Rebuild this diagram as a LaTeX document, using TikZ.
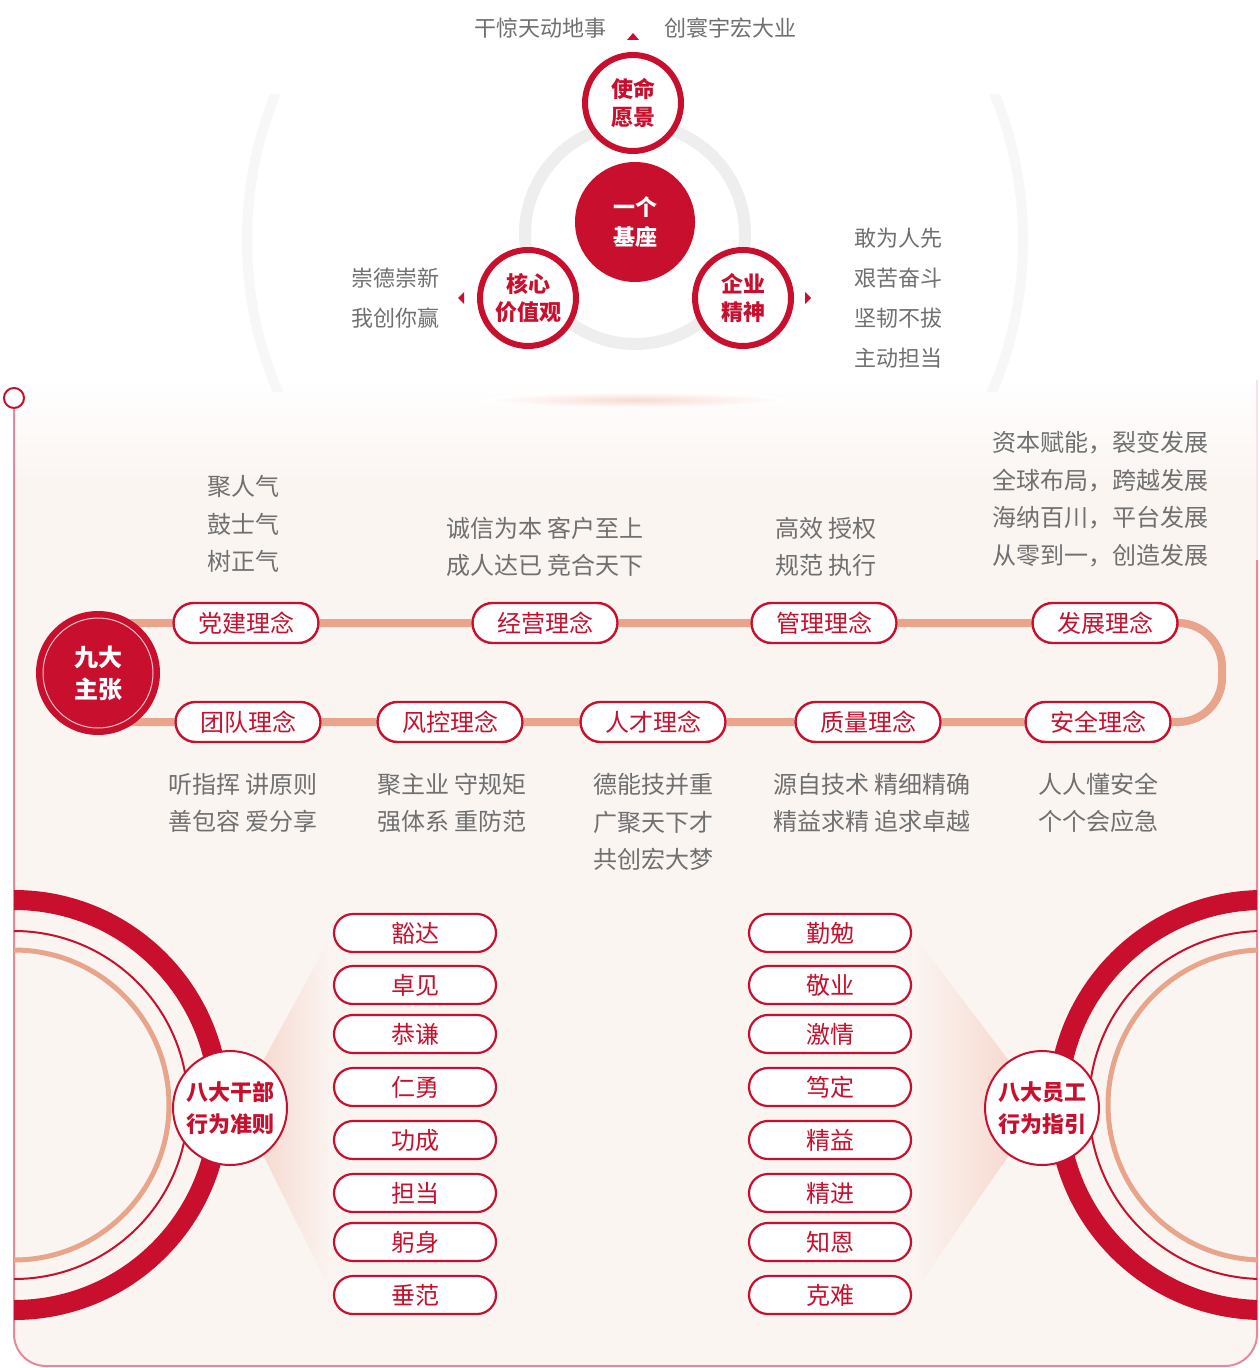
\documentclass[tikz,border=0pt]{standalone}
\usepackage{fontspec}
\setmainfont{Noto Sans CJK SC}
\usepackage{tikz}
\usetikzlibrary{positioning}

\definecolor{zred}{HTML}{C8102E}
\definecolor{salmon}{HTML}{E9A48C}
\definecolor{txtgray}{HTML}{707070}
\definecolor{bgpink}{HTML}{FBF5F2}
\definecolor{frameline}{HTML}{E8889A}

\pgfdeclarelayer{bg}
\pgfdeclarelayer{mid}
\pgfsetlayers{bg,mid,main}

\tikzset{
  note/.style={text=txtgray, align=center, font=\fontsize{12pt}{18.75pt}\selectfont},
  topnote/.style={text=txtgray, align=center, font=\fontsize{11pt}{20pt}\selectfont},
  core/.style={circle, fill=zred, text=white, align=center, inner sep=0pt,
    minimum size=60pt, font=\bfseries\fontsize{11pt}{15pt}\selectfont},
  petal/.style={circle, draw=zred, line width=3pt, fill=white, text=zred, align=center,
    inner sep=0pt, minimum size=48pt, font=\bfseries\fontsize{11pt}{14pt}\selectfont},
  hub/.style={circle, fill=zred, text=white, align=center, inner sep=0pt,
    minimum size=62pt, font=\bfseries\fontsize{12pt}{16pt}\selectfont},
  idea/.style={draw=zred, line width=1.2pt, fill=white, text=zred, rounded corners=10pt,
    minimum width=72.5pt, minimum height=20pt, inner sep=0pt, font=\fontsize{12pt}{14pt}\selectfont},
  virtue/.style={draw=zred, line width=1.1pt, fill=white, text=zred, rounded corners=9.5pt,
    minimum width=81pt, minimum height=19pt, inner sep=0pt, font=\fontsize{12pt}{14pt}\selectfont},
  badge/.style={circle, draw=zred, line width=1pt, fill=white, text=zred, align=center,
    inner sep=0pt, minimum size=57pt, font=\bfseries\fontsize{11pt}{16pt}\selectfont},
  track/.style={salmon, line width=4pt, rounded corners=22pt},
  frame/.style={frameline, line width=1pt, rounded corners=16pt},
}

\begin{document}
\begin{tikzpicture}[x=0.5pt, y=-0.5pt]
\useasboundingbox (0,0) rectangle (1259,1368);

% background
\begin{pgfonlayer}{bg}
  \fill[white] (0,0) rectangle (1259,1368);
  \fill[bgpink, rounded corners=16pt] (14,380) rectangle (1257,1366);
  \shade[top color=white, bottom color=bgpink] (14,378) rectangle (1257,480);
\end{pgfonlayer}

% top part
\begin{scope}
  \clip (0,95) rectangle (1259,392);
  \draw[gray!6, line width=5pt] (635,240) circle (388);
\end{scope}
\shade[inner color=salmon!40, outer color=white] (635,400) ellipse (150 and 8);
\draw[gray!13, line width=6pt] (635,234) circle (110);

\node[core] (core) at (635,222) {一个\\基座};
\node[petal] (mission) at (633,103) {使命\\愿景};
\node[petal] (values) at (528,298) {核心\\价值观};
\node[petal] (spirit) at (743,298) {企业\\精神};

\fill[zred] (627,40) -- (639,40) -- (633,33) -- cycle;
\fill[zred] (464,292) -- (464,304) -- (458,298) -- cycle;
\fill[zred] (805,292) -- (805,304) -- (811,298) -- cycle;

\node[topnote] (m1) at (540,28) {干惊天动地事};
\node[topnote] (m2) at (730,28) {创寰宇宏大业};
\node[topnote] (v1) at (395,298) {崇德崇新\\我创你赢};
\node[topnote] (s1) at (898,298) {敢为人先\\艰苦奋斗\\坚韧不拔\\主动担当};

% frame
\node[circle, draw=zred, line width=1pt, fill=white, minimum size=10pt, inner sep=0pt] (start) at (14,398) {};
\draw[frame] (start) -- (14,1366) -- (1257,1366) -- (1257,560);
\draw[frameline!25, line width=0.8pt] (1257,560) -- (1257,380);

% nine ideas
\node[hub] (zhu) at (98,673) {九大\\主张};
\draw[white!75!zred, line width=0.5pt] (zhu) circle (55);

\node[idea] (dangjian) at (246,623) {党建理念};
\node[idea] (jingying) at (545,623) {经营理念};
\node[idea] (guanli) at (824,623) {管理理念};
\node[idea] (fazhan) at (1105,623) {发展理念};
\node[idea] (tuandui) at (248,722) {团队理念};
\node[idea] (fengkong) at (450,722) {风控理念};
\node[idea] (rencai) at (653,722) {人才理念};
\node[idea] (zhiliang) at (868,722) {质量理念};
\node[idea] (anquan) at (1098,722) {安全理念};
\coordinate (turn) at (1222,672);

\begin{pgfonlayer}{mid}
  \draw[track] (zhu.center |- dangjian) -- (dangjian) -- (jingying) -- (guanli) -- (fazhan)
    -- (fazhan -| turn) -- (anquan -| turn) -- (anquan) -- (zhiliang) -- (rencai)
    -- (fengkong) -- (tuandui) -- (tuandui -| zhu.center);
\end{pgfonlayer}

\node[note] (n1) at (243,524) {聚人气\\鼓士气\\树正气};
\node[note] (n2) at (545,547) {诚信为本 客户至上\\成人达已 竞合天下};
\node[note] (n3) at (826,547) {高效 授权\\规范 执行};
\node[note] (n4) at (1100,499) {资本赋能，裂变发展\\全球布局，跨越发展\\海纳百川，平台发展\\从零到一，创造发展};
\node[note] (n5) at (243,803) {听指挥 讲原则\\善包容 爱分享};
\node[note] (n6) at (452,803) {聚主业 守规矩\\强体系 重防范};
\node[note] (n7) at (653,822) {德能技并重\\广聚天下才\\共创宏大梦};
\node[note] (n8) at (872,803) {源自技术 精细精确\\精益求精 追求卓越};
\node[note] (n9) at (1098,803) {人人懂安全\\个个会应急};

% eight + eight
\begin{scope}
  \clip (14,380) rectangle (1257,1366);
  \draw[zred, line width=10pt] (14,1105) circle (205);
  \draw[zred, line width=1pt] (14,1105) circle (174);
  \draw[salmon, line width=2.5pt] (14,1105) circle (155);
  \draw[zred, line width=10pt] (1263,1105) circle (205);
  \draw[zred, line width=1pt] (1263,1105) circle (174);
  \draw[salmon, line width=2.5pt] (1263,1105) circle (155);
\end{scope}

\node[badge] (ganbu) at (230,1108) {八大干部\\行为准则};
\node[badge] (yuangong) at (1042,1108) {八大员工\\行为指引};

\foreach \t/\y [count=\i] in {豁达/933, 卓见/985, 恭谦/1034, 仁勇/1087, 功成/1140, 担当/1193, 躬身/1242, 垂范/1295}
  \node[virtue] (l\i) at (415,\y) {\t};
\foreach \t/\y [count=\i] in {勤勉/933, 敬业/985, 激情/1034, 笃定/1087, 精益/1140, 精进/1193, 知恩/1242, 克难/1295}
  \node[virtue] (r\i) at (830,\y) {\t};

\begin{pgfonlayer}{mid}
  \shade[left color=salmon!40, right color=bgpink] (ganbu.55) -- (l1.west) -- (l8.west) -- (ganbu.-55) -- cycle;
  \shade[left color=bgpink, right color=salmon!40] (yuangong.125) -- (r1.east) -- (r8.east) -- (yuangong.-125) -- cycle;
\end{pgfonlayer}

\end{tikzpicture}
\end{document}
